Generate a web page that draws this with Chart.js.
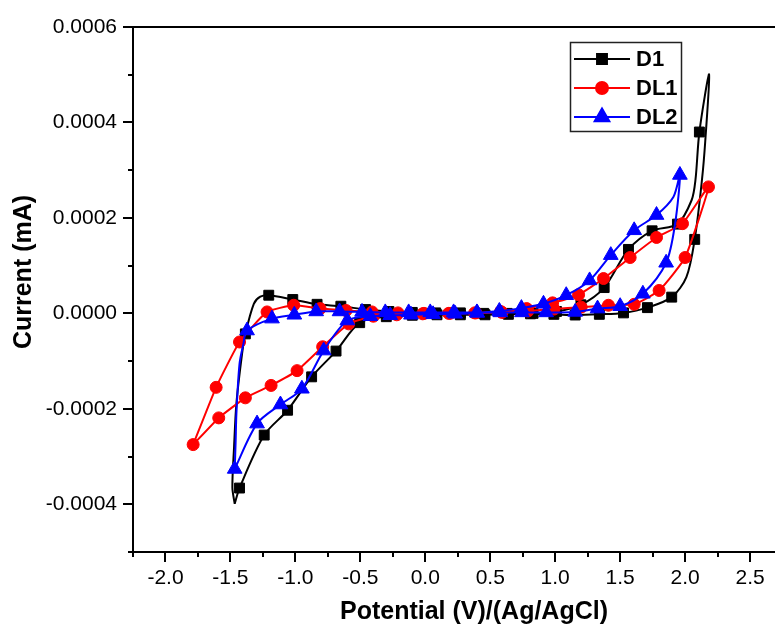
<!DOCTYPE html>
<html>
<head>
<meta charset="utf-8">
<script src="https://cdn.jsdelivr.net/npm/chart.js@4.4.1/dist/chart.umd.min.js"></script>
<style>
  html, body { margin: 0; padding: 0; background: #fff; overflow: hidden; }
  #wrap { width: 840px; height: 635px; }
</style>
</head>
<body>
<div id="wrap"><canvas id="cv" width="840" height="635"></canvas></div>
<script>
// --- data (potential in V, current in mA) ---
const seriesNames = ['D1', 'DL1', 'DL2'];

const d1Potential = [-1.467, -1.485, -1.472, -1.454, -1.41, -1.385, -1.32, -1.27, -1.205, -1.02,
  -0.833, -0.65, -0.46, -0.28, -0.10, 0.08, 0.27, 0.45, 0.63, 0.81,
  0.99, 1.154, 1.34, 1.526, 1.71, 1.897, 2.01, 2.074, 2.13, 2.155,
  2.185, 2.11, 2.08, 2.05, 1.941, 1.746, 1.564, 1.377, 1.198, 1.01,
  0.83, 0.64, 0.46, 0.27, 0.09, -0.10, -0.30, -0.505, -0.687, -0.875,
  -1.06, -1.24, -1.43, -1.467];
const d1Current = [-3.99e-4, -3.65e-4, -2.8e-4, -1.89e-4, -8.4e-5, -4.3e-5, 2.0e-5, 3.5e-5, 3.8e-5, 2.9e-5,
  1.9e-5, 1.5e-5, 8e-6, 4e-6, 2e-6, 1e-6, 1e-6, 0, 0, -1e-6,
  -2e-6, -3.5e-6, -2e-6, 1e-6, 1.2e-5, 3.4e-5, 7.6e-5, 1.55e-4, 2.8e-4, 3.6e-4,
  5.01e-4, 3.8e-4, 2.8e-4, 2.37e-4, 1.87e-4, 1.73e-4, 1.34e-4, 5.4e-5, 1.8e-5, 4e-6,
  0, -2e-6, -3e-6, -3e-6, -3e-6, -4e-6, -7e-6, -1.95e-5, -7.9e-5, -1.33e-4,
  -2.03e-4, -2.55e-4, -3.66e-4, -3.99e-4];
const d1Symbol = [0, 0, 0, 0, 0, 1, 0, 0, 1, 1,
  1, 1, 1, 1, 1, 1, 1, 1, 1, 1,
  1, 1, 1, 1, 1, 1, 0, 1, 0, 0,
  0, 1, 0, 0, 1, 1, 1, 1, 1, 1,
  1, 1, 1, 1, 1, 1, 1, 1, 1, 1,
  1, 1, 1, 0];

const dl1Potential = [-1.787, -1.61, -1.43, -1.218, -1.013, -0.81, -0.61, -0.41, -0.21, -0.01,
  0.19, 0.39, 0.59, 0.79, 0.99, 1.2, 1.41, 1.608, 1.8, 2.0,
  2.18, 1.98, 1.78, 1.577, 1.372, 1.18, 0.98, 0.78, 0.58, 0.38,
  0.18, -0.02, -0.22, -0.40, -0.59, -0.79, -0.987, -1.187, -1.385, -1.59,
  -1.787];
const dl1Current = [-2.75e-4, -1.55e-4, -6.0e-5, 3e-6, 1.7e-5, 1.0e-5, 6e-6, 3e-6, 1e-6, 0,
  0, 1e-6, 2e-6, 5e-6, 9e-6, 1.3e-5, 1.7e-5, 1.9e-5, 4.8e-5, 1.17e-4,
  2.65e-4, 1.88e-4, 1.59e-4, 1.17e-4, 7.3e-5, 3.9e-5, 2.2e-5, 1.0e-5, 4e-6, 1e-6,
  0, -1e-6, -3e-6, -6e-6, -2.2e-5, -7.0e-5, -1.2e-4, -1.51e-4, -1.77e-4, -2.19e-4,
  -2.75e-4];
const dl1Symbol = [1, 1, 1, 1, 1, 1, 1, 1, 1, 1,
  1, 1, 1, 1, 1, 1, 1, 1, 1, 1,
  1, 1, 1, 1, 1, 1, 1, 1, 1, 1,
  1, 1, 1, 1, 1, 1, 1, 1, 1, 1,
  0];

const dl2Potential = [-1.467, -1.46, -1.454, -1.43, -1.40, -1.372, -1.18, -1.008, -0.84, -0.66,
  -0.487, -0.308, -0.128, 0.038, 0.218, 0.397, 0.577, 0.744, 0.93, 1.154,
  1.326, 1.5, 1.675, 1.854, 1.923, 1.96, 1.91, 1.78, 1.608, 1.428,
  1.265, 1.085, 0.91, 0.74, 0.57, 0.40, 0.23, 0.06, -0.11, -0.27,
  -0.423, -0.6, -0.782, -0.95, -1.115, -1.295, -1.467];
const dl2Current = [-3.26e-4, -2.7e-4, -2.1e-4, -1.06e-4, -6.4e-5, -3.6e-5, -1.1e-5, -3e-6, 4e-6, 4e-6,
  3e-6, 2e-6, 2e-6, 2e-6, 2e-6, 2e-6, 2e-6, 2e-6, 2e-6, 3e-6,
  1.0e-5, 1.5e-5, 4.1e-5, 1.06e-4, 1.88e-4, 2.9e-4, 2.44e-4, 2.06e-4, 1.74e-4, 1.22e-4,
  6.9e-5, 3.8e-5, 2.0e-5, 1.1e-5, 5e-6, 1e-6, -1e-6, -2e-6, -3e-6, -4e-6,
  -6e-6, -1.5e-5, -7.8e-5, -1.58e-4, -1.91e-4, -2.31e-4, -3.26e-4];
const dl2Symbol = [1, 0, 0, 0, 0, 1, 1, 1, 1, 1,
  1, 1, 1, 1, 1, 1, 1, 1, 1, 1,
  1, 1, 1, 1, 0, 1, 0, 1, 1, 1,
  1, 1, 1, 1, 1, 1, 1, 1, 1, 1,
  1, 1, 1, 1, 1, 1, 0];

const xMajorTicks = [-2.0, -1.5, -1.0, -0.5, 0.0, 0.5, 1.0, 1.5, 2.0, 2.5, 3.0];
const yMajorTicks = [-0.0004, -0.0002, 0.0, 0.0002, 0.0004, 0.0006];
const xTitle = 'Potential (V)/(Ag/AgCl)';
const yTitle = 'Current (mA)';

// ---------------------------------------------------------------
const FONT = "'Liberation Sans', Arial, sans-serif";
const colors = ['#000000', '#ff0000', '#0000ff'];
const styles = ['rect', 'circle', 'triangle'];
const radii = [7, 6, 8.5];

const isMajor = (list, v) => list.some(m => Math.abs(m - v) < 1e-9);

function toPoints(xs, ys) {
  return xs.map((v, i) => ({ x: v, y: ys[i] }));
}

const raw = [
  [d1Potential, d1Current, d1Symbol],
  [dl1Potential, dl1Current, dl1Symbol],
  [dl2Potential, dl2Current, dl2Symbol],
];

const datasets = raw.map(([xs, ys, sym], k) => ({
  label: seriesNames[k],
  data: toPoints(xs, ys),
  showLine: true,
  borderColor: colors[k],
  backgroundColor: colors[k],
  borderWidth: 2,
  tension: k === 1 ? 0.15 : 0.3,
  pointStyle: styles[k],
  pointRadius: sym.map(s => s ? radii[k] : 0),
  pointBorderWidth: 1,
  order: 3 - k, // blue drawn on top, like the original
}));

// axis frame, minor/major tick marks, axis titles and boxed legend
const cvFrame = {
  id: 'cvFrame',
  afterDraw(chart) {
    const { ctx, chartArea: a, scales: { x, y } } = chart;
    ctx.save();
    ctx.strokeStyle = '#000';
    ctx.lineWidth = 2;
    ctx.beginPath();
    ctx.moveTo(a.left - 1, a.top);
    ctx.lineTo(a.right, a.top);
    ctx.stroke();

    ctx.beginPath();
    x.ticks.forEach(t => {
      const px = Math.round(x.getPixelForValue(t.value));
      const len = isMajor(xMajorTicks, t.value) ? 10 : 5;
      ctx.moveTo(px, a.bottom);
      ctx.lineTo(px, a.bottom + len);
    });
    y.ticks.forEach(t => {
      const py = Math.round(y.getPixelForValue(t.value));
      const len = isMajor(yMajorTicks, t.value) ? 10 : 5;
      ctx.moveTo(a.left, py);
      ctx.lineTo(a.left - len, py);
    });
    ctx.stroke();

    // titles
    ctx.fillStyle = '#000';
    ctx.font = 'bold 25px ' + FONT;
    ctx.textAlign = 'center';
    ctx.textBaseline = 'middle';
    ctx.fillText(xTitle, (a.left + a.right) / 2, 612);
    ctx.save();
    ctx.translate(24, 272);
    ctx.rotate(-Math.PI / 2);
    ctx.fillText(yTitle, 0, 0);
    ctx.restore();

    // legend
    ctx.lineWidth = 1.5;
    ctx.strokeStyle = '#222';
    ctx.strokeRect(570.5, 42.5, 111, 89);
    ctx.font = 'bold 22px ' + FONT;
    ctx.textAlign = 'left';
    seriesNames.forEach((name, k) => {
      const ly = 59 + k * 29;
      ctx.strokeStyle = colors[k];
      ctx.fillStyle = colors[k];
      ctx.lineWidth = 2;
      ctx.beginPath();
      ctx.moveTo(574, ly);
      ctx.lineTo(630, ly);
      ctx.stroke();
      Chart.helpers.drawPoint(ctx, { pointStyle: styles[k], radius: radii[k], borderWidth: 1 }, 602, ly);
      ctx.fillStyle = '#000';
      ctx.fillText(name, 636, ly + 1);
    });
    ctx.restore();
  }
};

new Chart(document.getElementById('cv'), {
  type: 'scatter',
  data: { datasets },
  options: {
    responsive: false,
    animation: false,
    layout: { padding: { left: 0, top: 27, right: 25, bottom: 0 } },
    scales: {
      x: {
        type: 'linear',
        min: -2.25,
        max: 3.0,
        grid: { display: false, drawTicks: false, tickLength: 0 },
        border: { display: true, color: '#000', width: 2 },
        ticks: {
          stepSize: 0.25,
          maxTicksLimit: 40,
          autoSkip: false,
          maxRotation: 0,
          includeBounds: false,
          padding: 14,
          color: '#000',
          font: { family: FONT, size: 21 },
          callback: v => isMajor(xMajorTicks, v) ? v.toFixed(1) : ''
        },
        // fixed axis box so the plot area keeps the original frame
        afterFit: s => { s.height = 83; s.paddingLeft = 0; s.paddingRight = 0; }
      },
      y: {
        type: 'linear',
        min: -0.0005,
        max: 0.0006,
        grid: { display: false, drawTicks: false, tickLength: 0 },
        border: { display: true, color: '#000', width: 2 },
        ticks: {
          stepSize: 0.0001,
          maxTicksLimit: 40,
          autoSkip: false,
          includeBounds: false,
          padding: 16,
          color: '#000',
          font: { family: FONT, size: 21 },
          callback: v => {
            if (!isMajor(yMajorTicks, v)) return '';
            return Math.abs(v) < 1e-12 ? '0.0000' : v.toFixed(4);
          }
        },
        afterFit: s => { s.width = 133; s.paddingTop = 0; s.paddingBottom = 0; }
      }
    },
    plugins: {
      legend: { display: false },
      tooltip: { enabled: false }
    }
  },
  plugins: [cvFrame]
});
</script>
</body>
</html>
